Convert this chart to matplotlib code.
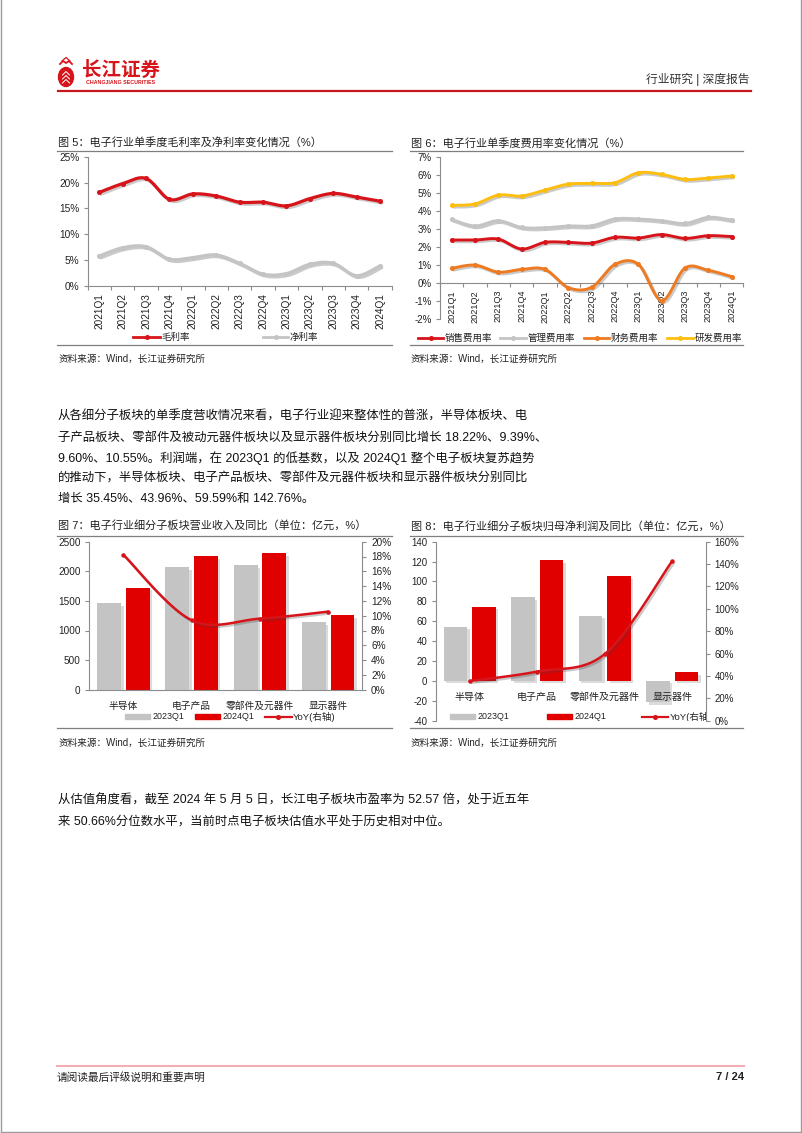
import numpy as np
import matplotlib
matplotlib.use('Agg')
import matplotlib.pyplot as plt
import matplotlib.patheffects as pe
from matplotlib.patches import Rectangle, Ellipse

plt.rcParams['font.family'] = ['Liberation Sans', 'Noto Sans CJK SC', 'DejaVu Sans']
plt.rcParams['axes.unicode_minus'] = False

# ---------------- data ----------------
quarters = ['2021Q1', '2021Q2', '2021Q3', '2021Q4', '2022Q1', '2022Q2', '2022Q3',
            '2022Q4', '2023Q1', '2023Q2', '2023Q3', '2023Q4', '2024Q1']
gross_margin = [18.1, 19.8, 20.8, 16.75, 17.8, 17.4, 16.2, 16.2, 15.5, 16.9, 17.9, 17.2, 16.4]
net_margin = [5.8, 7.4, 7.6, 5.2, 5.5, 6.0, 4.4, 2.3, 2.4, 4.2, 4.4, 2.0, 3.9]

sales_rate = [2.38, 2.38, 2.43, 1.88, 2.25, 2.25, 2.21, 2.53, 2.49, 2.68, 2.47, 2.62, 2.57]
admin_rate = [3.52, 3.16, 3.45, 3.08, 3.06, 3.16, 3.17, 3.55, 3.55, 3.45, 3.30, 3.64, 3.49]
fin_rate = [0.81, 0.99, 0.60, 0.75, 0.75, -0.26, -0.24, 1.03, 1.03, -0.98, 0.83, 0.70, 0.35]
rd_rate = [4.30, 4.38, 4.87, 4.82, 5.15, 5.48, 5.52, 5.56, 6.11, 6.02, 5.74, 5.82, 5.93]

sectors = ['半导体', '电子产品', '零部件及元器件', '显示器件']
rev_2023q1 = [1458, 2066, 2100, 1137]
rev_2024q1 = [1723, 2258, 2303, 1261]
rev_yoy = [18.22, 9.39, 9.60, 10.55]

np_2023q1 = [54.5, 84.0, 65.6, -21.5]
np_2024q1 = [74.6, 121.5, 105.1, 8.6]
np_yoy = [35.45, 43.96, 59.59, 142.76]

body1 = ['从各细分子板块的单季度营收情况来看，电子行业迎来整体性的普涨，半导体板块、电',
         '子产品板块、零部件及被动元器件板块以及显示器件板块分别同比增长 18.22%、9.39%、',
         '9.60%、10.55%。利润端，在 2023Q1 的低基数，以及 2024Q1 整个电子板块复苏趋势',
         '的推动下，半导体板块、电子产品板块、零部件及元器件板块和显示器件板块分别同比',
         '增长 35.45%、43.96%、59.59%和 142.76%。']
body2 = ['从估值角度看，截至 2024 年 5 月 5 日，长江电子板块市盈率为 52.57 倍，处于近五年',
         '来 50.66%分位数水平，当前时点电子板块估值水平处于历史相对中位。']

# ---------------- styles ----------------
RED = '#D7141A'
BAR_RED = '#E00000'
GRAY = '#C4C4C4'
ORANGE = '#EE7A22'
YELLOW = '#FDBE0F'
SPINE = '#8C8C8C'
TXT = '#222222'

W, H = 802, 1133
fig = plt.figure(figsize=(W / 100, H / 100), dpi=100)


def px_axes(x0, y0, x1, y1, **kw):
    a = fig.add_axes([x0 / W, 1 - y1 / H, (x1 - x0) / W, (y1 - y0) / H], **kw)
    a.patch.set_visible(False)
    return a


def smooth(y, n=24):
    y = np.asarray(y, float)
    P = np.column_stack([np.arange(len(y), dtype=float), y])
    out = [P[0]]
    t = np.linspace(0, 1, n)[1:, None]
    for i in range(len(P) - 1):
        p0 = P[i - 1] if i > 0 else P[i]
        p1, p2 = P[i], P[i + 1]
        p3 = P[i + 2] if i + 2 < len(P) else P[i + 1]
        c1 = p1 + (p2 - p0) / 6
        c2 = p2 - (p3 - p1) / 6
        seg = (1 - t) ** 3 * p1 + 3 * (1 - t) ** 2 * t * c1 + 3 * (1 - t) * t ** 2 * c2 + t ** 3 * p2
        out.extend(seg)
    out = np.array(out)
    return out[:, 0], out[:, 1]


line_shadow = [pe.SimpleLineShadow(offset=(1.3, -1.3), shadow_color='#444444', alpha=0.28), pe.Normal()]
bar_shadow = [pe.SimplePatchShadow(offset=(1.8, -1.8), shadow_rgbFace='#888888', alpha=0.3), pe.Normal()]


def smooth_line(ax, vals, color, lw=2.0, ms=2.6):
    xs, ys = smooth(vals)
    ax.plot(xs, ys, color=color, lw=lw, solid_capstyle='round', path_effects=line_shadow, zorder=3)
    ax.plot(np.arange(len(vals)), vals, 'o', color=color, ms=ms, zorder=4)


def style_spines(ax, left=True, bottom=True, right=False):
    for s in ['top', 'right', 'left', 'bottom']:
        ax.spines[s].set_visible(False)
    for s, v in (('left', left), ('bottom', bottom), ('right', right)):
        if v:
            ax.spines[s].set_visible(True)
            ax.spines[s].set_color(SPINE)
            ax.spines[s].set_linewidth(0.8)


# ---------------- overlay for page elements ----------------
ov = fig.add_axes([0, 0, 1, 1], zorder=10)
ov.set_xlim(0, W)
ov.set_ylim(H, 0)
ov.axis('off')
ov.patch.set_visible(False)

# page border
ov.plot([0.5, 0.5], [0, 1131.5], color='#9A9A9A', lw=1)
ov.plot([800.5, 800.5], [0, 1131.5], color='#9A9A9A', lw=1)
ov.plot([0.5, 800.5], [1131.5, 1131.5], color='#9A9A9A', lw=1)

# header
ov.add_patch(Ellipse((66, 77), 15, 19, color=RED))
ov.plot([60, 63, 66, 69, 72], [64, 61, 63, 61, 64], color=RED, lw=1.3)
ov.plot([62, 66, 70], [61, 57.5, 61], color=RED, lw=0.9)
for dy in (-4, 0, 4):
    ov.plot([62.5, 66, 69.5], [77 + dy + 2, 77 + dy - 1.5, 77 + dy + 2], color='white', lw=0.7)
ov.text(121, 70, '长江证券', fontsize=14, fontweight='bold', color=RED, ha='center', va='center')
ov.text(121, 82.5, 'CHANGJIANG SECURITIES', fontsize=3.8, fontweight='bold', color=RED, ha='center', va='center')
ov.text(749.3, 79, '行业研究 | 深度报告', fontsize=8.5, color='#333333', ha='right', va='center')
ov.plot([58, 751], [90.7, 90.7], color='#C8161D', lw=1.6)

# footer
ov.plot([57, 744], [1066, 1066], color='#F2AEB4', lw=1.5)
ov.text(57, 1077, '请阅读最后评级说明和重要声明', fontsize=7.7, color=TXT, va='center')
ov.text(744, 1077, '7 / 24', fontsize=8, color=TXT, fontweight='bold', ha='right', va='center')

# body text
for i, s in enumerate(body1):
    ov.text(57.5, 416.7 + i * 20.6, s, fontsize=8.9, color='#111111', va='center')
for i, s in enumerate(body2):
    ov.text(57.5, 800 + i * 21.7, s, fontsize=8.9, color='#111111', va='center')


def frame(x0, x1, title, ytitle, yline, ybottom, ysource):
    ov.text(x0 + 1, ytitle, title, fontsize=8, color=TXT, va='center')
    ov.plot([x0, x1], [yline, yline], color='#7F7F7F', lw=0.9)
    ov.plot([x0, x1], [ybottom, ybottom], color='#7F7F7F', lw=0.9)
    ov.text(x0 + 1, ysource, '资料来源：Wind，长江证券研究所', fontsize=6.9, color=TXT, va='center')


def leg_line(x0, x1, y, color, label, lw=2.0):
    ov.plot([x0, (x0 + x1) / 2, x1], [y, y, y], color=color, lw=lw, marker='o', ms=2.6, markevery=[1])
    ov.text(x1 + 1.5, y, label, fontsize=6.8, color=TXT, va='center')


def leg_patch(x0, x1, y, color, label):
    ov.add_patch(Rectangle((x0, y - 2.6), x1 - x0, 5.2, color=color))
    ov.text(x1 + 3, y, label, fontsize=6.4, color=TXT, va='center')


# ---------------- Figure 5 ----------------
frame(57.3, 391.7, '图 5：电子行业单季度毛利率及净利率变化情况（%）', 142.7, 150.7, 345, 359.3)
ax5 = px_axes(87.6, 156.7, 391.7, 286)
ax5.set_xlim(-0.5, 12.5)
ax5.set_ylim(0, 25)
style_spines(ax5)
ax5.set_yticks([0, 5, 10, 15, 20, 25])
ax5.set_yticklabels([f'{v}%' for v in [0, 5, 10, 15, 20, 25]])
ax5.set_xticks(range(len(quarters)))
ax5.set_xticklabels(quarters, rotation=90)
ax5.set_xticks(np.arange(-0.5, len(quarters)), minor=True)
ax5.tick_params(axis='x', which='major', length=0, pad=5, labelsize=7.2, colors=TXT)
ax5.tick_params(axis='x', which='minor', length=3, color=SPINE, width=0.8)
ax5.tick_params(axis='y', length=3, color=SPINE, width=0.8, pad=3, labelsize=7.3, labelcolor=TXT)
smooth_line(ax5, net_margin, GRAY, lw=2.3)
smooth_line(ax5, gross_margin, RED, lw=2.3)
leg_line(133.3, 160, 337.3, RED, '毛利率')
leg_line(263.3, 288.3, 337.3, GRAY, '净利率')

# ---------------- Figure 6 ----------------
frame(410, 743, '图 6：电子行业单季度费用率变化情况（%）', 143.3, 150.7, 345, 359)
ax6 = px_axes(440, 156.7, 743.4, 319)
ax6.set_xlim(-0.5, 12.5)
ax6.set_ylim(-2, 7)
style_spines(ax6)
ax6.spines['bottom'].set_position(('data', 0))
ax6.set_yticks(range(-2, 8))
ax6.set_yticklabels([f'{v}%' for v in range(-2, 8)])
ax6.set_xticks(range(len(quarters)))
ax6.set_xticklabels(quarters, rotation=90)
ax6.set_xticks(np.arange(-0.5, len(quarters)), minor=True)
ax6.tick_params(axis='x', which='major', length=0, pad=5, labelsize=6.6, colors=TXT)
ax6.tick_params(axis='x', which='minor', length=3, color=SPINE, width=0.8)
ax6.tick_params(axis='y', length=3, color=SPINE, width=0.8, pad=3, labelsize=7, labelcolor=TXT)
smooth_line(ax6, admin_rate, GRAY, lw=2.1)
smooth_line(ax6, rd_rate, YELLOW, lw=2.1)
smooth_line(ax6, fin_rate, ORANGE, lw=2.1)
smooth_line(ax6, sales_rate, RED, lw=2.1)
leg_line(418.3, 443.3, 338, RED, '销售费用率')
leg_line(500, 526, 338, GRAY, '管理费用率')
leg_line(584, 609.3, 338, ORANGE, '财务费用率')
leg_line(666.7, 692.7, 338, YELLOW, '研发费用率')

# ---------------- Figure 7 ----------------
frame(57.3, 391.7, '图 7：电子行业细分子板块营业收入及同比（单位：亿元，%）', 525, 535.7, 728.3, 742.7)
idx = np.arange(len(sectors))
ax7 = px_axes(89.3, 541.7, 362.3, 689.7)
ax7.set_xlim(-0.5, 3.5)
ax7.set_ylim(0, 2500)
style_spines(ax7)
ax7.bar(idx - 0.21, rev_2023q1, 0.35, color=GRAY, path_effects=bar_shadow, zorder=1)
ax7.bar(idx + 0.21, rev_2024q1, 0.35, color=BAR_RED, path_effects=bar_shadow, zorder=1)
ax7.set_yticks(range(0, 2501, 500))
ax7.set_xticks(idx)
ax7.set_xticklabels(sectors)
ax7.tick_params(axis='x', length=0, pad=8, labelsize=7, colors=TXT)
ax7.tick_params(axis='y', length=3, color=SPINE, width=0.8, pad=3.3, labelsize=7.2, labelcolor=TXT)
ax7r = ax7.twinx()
ax7r.patch.set_visible(False)
ax7r.set_ylim(0, 20)
style_spines(ax7r, left=False, bottom=False, right=True)
ax7r.set_yticks(range(0, 21, 2))
ax7r.set_yticklabels([f'{v}%' for v in range(0, 21, 2)])
ax7r.tick_params(axis='y', length=3, color=SPINE, width=0.8, pad=3.3, labelsize=7.2, labelcolor=TXT)
smooth_line(ax7r, rev_yoy, RED, lw=1.8, ms=2.2)
leg_patch(125, 150, 716.7, GRAY, '2023Q1')
leg_patch(195, 220, 716.7, BAR_RED, '2024Q1')
leg_line(265, 291.7, 716.7, RED, 'YoY(右轴)', lw=1.6)

# ---------------- Figure 8 ----------------
frame(410, 743, '图 8：电子行业细分子板块归母净利润及同比（单位：亿元，%）', 526.7, 535.7, 728.3, 742.7)
ax8 = px_axes(436, 541.7, 706, 720.7)
ax8.set_xlim(-0.5, 3.5)
ax8.set_ylim(-40, 140)
style_spines(ax8)
ax8.spines['bottom'].set_position(('data', 0))
ax8.spines['bottom'].set_color('none')
ax8.bar(idx - 0.21, np_2023q1, 0.35, color=GRAY, path_effects=bar_shadow, zorder=1)
ax8.bar(idx + 0.21, np_2024q1, 0.35, color=BAR_RED, path_effects=bar_shadow, zorder=1)
ax8.set_yticks(range(-40, 141, 20))
ax8.set_xticks(idx)
ax8.set_xticklabels(sectors)
ax8.tick_params(axis='x', length=0, pad=8, labelsize=7.2, colors=TXT)
ax8.tick_params(axis='y', length=3, color=SPINE, width=0.8, pad=3.3, labelsize=6.9, labelcolor=TXT)
ax8r = ax8.twinx()
ax8r.patch.set_visible(False)
ax8r.set_ylim(0, 160)
style_spines(ax8r, left=False, bottom=False, right=True)
ax8r.set_yticks(range(0, 161, 20))
ax8r.set_yticklabels([f'{v}%' for v in range(0, 161, 20)])
ax8r.tick_params(axis='y', length=3, color=SPINE, width=0.8, pad=3.3, labelsize=6.9, labelcolor=TXT)
smooth_line(ax8r, np_yoy, RED, lw=1.8, ms=2.2)
leg_patch(450, 475, 716.7, GRAY, '2023Q1')
leg_patch(546.7, 571.7, 716.7, BAR_RED, '2024Q1')
ov.plot([641.7, 655, 668.3], [716.7] * 3, color=RED, lw=1.6, marker='o', ms=2.6, markevery=[1])
ax8r.text(669.8, 716.7, 'YoY(右轴)', fontsize=6.8, color=TXT, va='center',
          transform=ov.transData, clip_on=True)

fig.savefig('out.png', dpi=100)
